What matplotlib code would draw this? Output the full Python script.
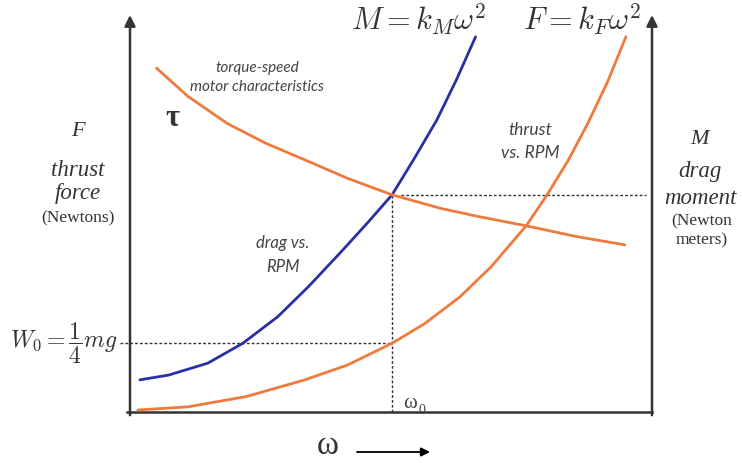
import matplotlib.pyplot as plt

plt.rcParams['mathtext.fontset'] = 'cm'

# omega axis runs 0..10, value axis 0..10 (arbitrary units)
drag_w = [0.19, 0.74, 1.49, 2.16, 2.83, 3.42, 4.02, 4.54, 5.02, 5.43, 5.88, 6.25, 6.62]
drag_v = [0.81, 0.93, 1.23, 1.73, 2.40, 3.16, 4.00, 4.75, 5.47, 6.35, 7.36, 8.36, 9.45]

thrust_w = [0.15, 1.11, 2.23, 3.35, 4.16, 5.02, 5.65, 6.32, 6.92, 7.59, 7.99, 8.40, 8.77, 9.15, 9.50]
thrust_v = [0.05, 0.13, 0.39, 0.81, 1.18, 1.73, 2.23, 2.90, 3.66, 4.69, 5.47, 6.35, 7.27, 8.32, 9.45]

torque_w = [0.51, 1.11, 1.86, 2.60, 3.35, 4.16, 5.02, 5.95, 6.69, 7.59, 8.55, 9.48]
torque_v = [8.66, 7.95, 7.27, 6.77, 6.35, 5.89, 5.47, 5.13, 4.92, 4.69, 4.42, 4.21]

omega0 = 5.02
W0 = 1.73
M0 = 5.47

blue = '#2a30a3'
orange = '#ee7b3d'
dark = '#333333'
grey = '#444444'

fig = plt.figure(figsize=(7.42, 4.63), dpi=100)
ax = fig.add_axes([130/742, 1 - 412/463, 522/742, 397/463])
ax.set_xlim(0, 10)
ax.set_ylim(0, 10)
ax.axis('off')

# axes drawn as arrows
arr = dict(arrowstyle='-|>', color=dark, lw=1.8, mutation_scale=16, shrinkA=0, shrinkB=0)
ax.annotate('', xy=(0, 1), xytext=(0, -0.008), xycoords='axes fraction', arrowprops=arr)
ax.annotate('', xy=(1, 1), xytext=(1, -0.008), xycoords='axes fraction', arrowprops=arr)
ax.plot([-0.005, 1], [0, 0], color=dark, lw=1.8, transform=ax.transAxes, clip_on=False)

# dashed guide lines
ds = dict(color=dark, lw=1.0, ls=(0, (2, 1.5)), clip_on=False)
ax.plot([-0.19, omega0], [W0, W0], **ds)
ax.plot([omega0, omega0], [0, M0], **ds)
ax.plot([5.2, 9.89], [M0, M0], **ds)

# curves
cs = dict(lw=2.0, solid_capstyle='round', solid_joinstyle='round')
ax.plot(drag_w, drag_v, color=blue, **cs)
ax.plot(thrust_w, thrust_v, color=orange, **cs)
ax.plot(torque_w, torque_v, color=orange, **cs)


def t(x, y, s, **kw):
    fig.text(x/742, 1 - y/463, s, ha='center', va='center', **kw)


serif = ['Liberation Serif', 'DejaVu Serif']
sans = ['Lato', 'DejaVu Sans']

# left labels
t(78, 132, 'F', family=serif, style='italic', fontsize=16, color=dark)
t(78, 170, 'thrust', family=serif, style='italic', fontsize=16.5, color=dark)
t(78, 194, 'force', family=serif, style='italic', fontsize=16.5, color=dark)
t(78, 218, '(Newtons)', family=serif, fontsize=12.5, color=dark)
t(64, 343, r'$W_0 = \dfrac{1}{4}mg$', fontsize=17, color=dark)

# right labels
t(700, 140, 'M', family=serif, style='italic', fontsize=16, color=dark)
t(700, 172, 'drag', family=serif, style='italic', fontsize=16.5, color=dark)
t(700, 198, 'moment', family=serif, style='italic', fontsize=16.5, color=dark)
t(702, 221, '(Newton', family=serif, fontsize=12.5, color=dark)
t(702, 240, 'meters)', family=serif, fontsize=12.5, color=dark)

# equations
t(419, 20, r'$M = k_M\omega^2$', fontsize=22, color=dark)
t(582, 20, r'$F = k_F\omega^2$', fontsize=22, color=dark)

# annotations
t(172, 118, 'τ', family=serif, fontsize=22, color=dark, weight='bold')
t(257, 68, 'torque-speed', family=sans, style='italic', fontsize=11, color=grey)
t(257, 87, 'motor characteristics', family=sans, style='italic', fontsize=11, color=grey)
t(530, 130, 'thrust', family=sans, style='italic', fontsize=12.5, color=grey)
t(530, 153, 'vs. RPM', family=sans, style='italic', fontsize=12.5, color=grey)
t(283, 243, 'drag vs.', family=sans, style='italic', fontsize=12, color=grey)
t(283, 267, 'RPM', family=sans, style='italic', fontsize=12, color=grey)

t(410, 404, 'ω', family=serif, fontsize=15, color=grey)
t(422, 410, '0', family=serif, fontsize=10, color=grey)
t(328, 446, 'ω', family=serif, fontsize=24, color=dark)
ax.annotate('', xy=(430/742, 1 - 452/463), xytext=(357/742, 1 - 452/463),
            xycoords='figure fraction', textcoords='figure fraction',
            arrowprops=dict(arrowstyle='-|>', color='black', lw=1.3,
                            mutation_scale=13, shrinkA=0, shrinkB=0))

fig.savefig('out.png', dpi=100)
